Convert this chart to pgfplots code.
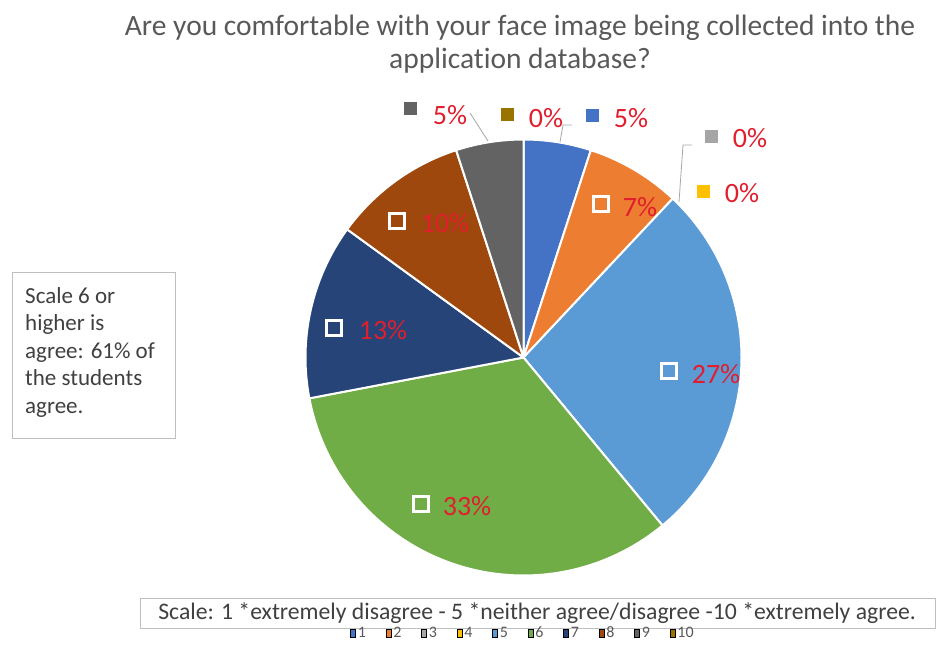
\documentclass[border=0pt]{standalone}
\usepackage{pgfplots}
\pgfplotsset{compat=1.18}
\usepackage{fontspec}
\setmainfont{Carlito}[Ligatures=NoCommon]
\definecolor{c1}{HTML}{4472C4}
\definecolor{c2}{HTML}{ED7D31}
\definecolor{c3}{HTML}{A5A5A5}
\definecolor{c4}{HTML}{FFC000}
\definecolor{c5}{HTML}{5B9BD5}
\definecolor{c6}{HTML}{70AD47}
\definecolor{c7}{HTML}{264478}
\definecolor{c8}{HTML}{9E480E}
\definecolor{c9}{HTML}{636363}
\definecolor{c10}{HTML}{997300}
\definecolor{lab}{RGB}{225,30,45}
\definecolor{ttl}{HTML}{595959}
\definecolor{txt}{HTML}{404040}
\definecolor{boxgray}{HTML}{BFBFBF}
\definecolor{lead}{HTML}{A6A6A6}
% slice: colour, cumulative start %, cumulative end %
\newcommand{\pieslice}[3]{%
  \addplot[fill=#1, draw=white, line width=2pt, line join=round,
    domain=3.6*#2:3.6*#3, samples=80, variable=\t]
    ({523.5+218*sin(t)}, {304.5+218*cos(t)}) -- (axis cs:523.5,304.5) -- cycle;}
\newcommand{\pct}[3]{\node[text=lab, font=\fontsize{28}{28}\selectfont, inner sep=0] at (axis cs:#1,#2) {#3\%};}
\begin{document}
\begin{tikzpicture}
\begin{axis}[scale only axis, width=947pt, height=662pt,
  xmin=0, xmax=947, ymin=0, ymax=662, hide axis, clip=false,
  legend columns=10,
  legend entries={1,2,3,4,5,6,7,8,9,10},
  legend image code/.code={\fill[#1] (0pt,-4pt) rectangle (5pt,4pt);},
  legend style={at={(axis cs:523,29)}, anchor=center, draw=none, fill=none,
    font=\fontsize{16}{16}\selectfont\color{ttl},
    /tikz/every even column/.append style={column sep=18pt}},
]
\addlegendimage{fill=c1}
\addlegendimage{fill=c2}
\addlegendimage{fill=c3}
\addlegendimage{fill=c4}
\addlegendimage{fill=c5}
\addlegendimage{fill=c6}
\addlegendimage{fill=c7}
\addlegendimage{fill=c8}
\addlegendimage{fill=c9}
\addlegendimage{fill=c10}
\path (axis cs:0,0) rectangle (axis cs:947,662);
% shares (%): 1:5 2:7 3:0 4:0 5:27 6:33 7:13 8:10 9:5 10:0
\pieslice{c1}{0}{5}
\pieslice{c2}{5}{12}
\pieslice{c5}{12}{39}
\pieslice{c6}{39}{72}
\pieslice{c7}{72}{85}
\pieslice{c8}{85}{95}
\pieslice{c9}{95}{100}
% leader lines
\draw[lead, line width=0.8pt] (axis cs:470,549) -- (axis cs:488,521);
\draw[lead, line width=0.8pt] (axis cs:572,537) -- (axis cs:563,537) -- (axis cs:560,520);
\draw[lead, line width=0.8pt] (axis cs:692,517) -- (axis cs:683,517) -- (axis cs:679,460);
% outside label keys
\addplot[only marks, mark=square*, mark size=6, color=c9] coordinates {(410,554)};
\addplot[only marks, mark=square*, mark size=6, color=c10] coordinates {(507,548)};
\addplot[only marks, mark=square*, mark size=6, color=c1] coordinates {(592,547)};
\addplot[only marks, mark=square*, mark size=6, color=c3] coordinates {(711,526)};
\addplot[only marks, mark=square*, mark size=6, color=c4] coordinates {(703,471)};
% inside label keys
\addplot[only marks, mark=square, mark size=7.5, white, mark options={line width=2.5pt}]
  coordinates {(601,458) (669,291) (421,158) (334,334) (397,441)};
% percentages
\pct{450}{547}{5}
\pct{546}{544}{0}
\pct{631}{544}{5}
\pct{750}{524}{0}
\pct{742}{469}{0}
\pct{640}{455}{7}
\pct{716}{288}{27}
\pct{467}{156}{33}
\pct{383}{332}{13}
\pct{445}{439}{10}
% title
\node[align=center, text=ttl, font=\fontsize{29.5}{33}\selectfont] at (axis cs:520,618)
  {Are you comfortable with your face image being collected into the\\application database?};
% left box
\draw[boxgray, line width=1pt] (axis cs:12,224) rectangle (axis cs:175,389);
\node[anchor=north west, align=left, text=txt, inner sep=0,
  font=\fontsize{23}{27.5}\selectfont] at (axis cs:25,375)
  {Scale 6 or\\higher is\\agree: 61\% of\\the students\\agree.};
% bottom box
\draw[boxgray, line width=1pt] (axis cs:140,34) rectangle (axis cs:935,64);
\node[text=txt, font=\fontsize{23.7}{24}\selectfont] at (axis cs:537,49)
  {Scale: 1 *extremely disagree - 5 *neither agree/disagree -10 *extremely agree.};
\end{axis}
\end{tikzpicture}
\end{document}
